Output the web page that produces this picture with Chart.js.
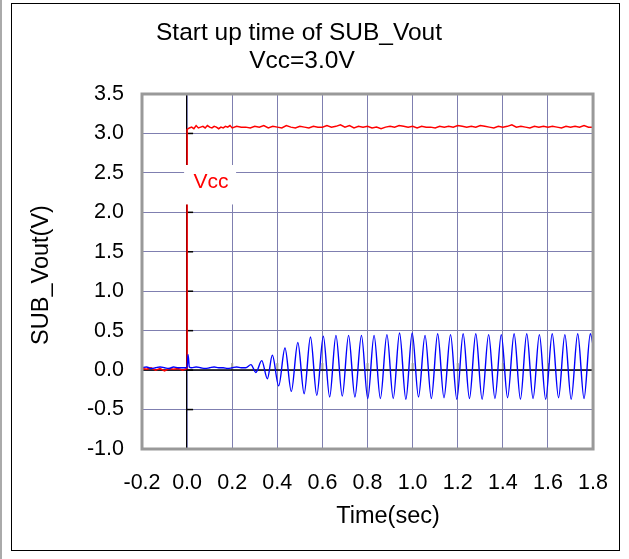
<!DOCTYPE html>
<html><head><meta charset="utf-8">
<script src="https://cdn.jsdelivr.net/npm/chart.js@4/dist/chart.umd.min.js"></script>
<style>html,body{margin:0;padding:0;background:#fff;}#wrap{position:absolute;left:0;top:0;width:629px;height:559px;}</style>
</head><body><div id="wrap"><canvas id="c" width="629" height="559"></canvas></div>
<script>
const titleLines = ['Start up time of SUB_Vout', 'Vcc=3.0V'];
const xTitle = 'Time(sec)';
const yTitle = 'SUB_Vout(V)';
const xTickValues = [-0.2, 0.0, 0.2, 0.4, 0.6, 0.8, 1.0, 1.2, 1.4, 1.6, 1.8];
const yTickValues = [-1.0, -0.5, 0.0, 0.5, 1.0, 1.5, 2.0, 2.5, 3.0, 3.5];
const vccLabel = 'Vcc';

// Vcc (red) trace
const redT = [-0.2,-0.18,-0.16,-0.14,-0.12,-0.1,-0.08,-0.06,-0.04,-0.02,0.0,0.0,
  0.01,0.02,0.03,0.04,0.05,0.06,0.07,0.08,0.09,0.1,0.11,0.12,0.13,0.14,0.15,0.16,0.17,0.18,0.19,0.2,
  0.22,0.24,0.26,0.28,0.3,0.32,0.34,0.36,0.38,0.4,
  0.42,0.44,0.46,0.48,0.5,0.52,0.54,0.56,0.58,0.6,0.62,0.64,0.66,0.68,0.7,0.72,0.74,0.76,0.78,0.8,
  0.82,0.84,0.86,0.88,0.9,0.92,0.94,0.96,0.98,1.0,1.02,1.04,1.06,1.08,1.1,1.12,1.14,1.16,1.18,1.2,
  1.22,1.24,1.26,1.28,1.3,1.32,1.34,1.36,1.38,1.4,1.42,1.44,1.46,1.48,1.5,1.52,1.54,1.56,1.58,1.6,
  1.62,1.64,1.66,1.68,1.7,1.72,1.74,1.76,1.78,1.8];
const redV = [0.02,0.01,0.03,0.00,0.02,-0.01,0.02,0.01,0.02,0.00,0.02,3.05,
  3.07,3.08,3.06,3.10,3.07,3.08,3.09,3.07,3.10,3.08,3.07,3.09,3.08,3.06,3.08,3.07,3.09,3.08,3.10,3.07,
  3.09,3.08,3.08,3.07,3.09,3.08,3.10,3.07,3.09,3.08,
  3.07,3.10,3.08,3.07,3.09,3.08,3.07,3.09,3.08,3.08,3.10,3.08,3.09,3.11,3.08,3.10,3.07,3.09,3.08,3.09,
  3.07,3.08,3.06,3.08,3.09,3.08,3.10,3.09,3.08,3.09,3.07,3.09,3.08,3.08,3.07,3.09,3.08,3.09,3.08,3.10,
  3.09,3.08,3.09,3.08,3.10,3.09,3.08,3.07,3.09,3.08,3.09,3.11,3.08,3.09,3.08,3.07,3.09,3.08,3.09,3.08,
  3.09,3.08,3.07,3.09,3.08,3.09,3.08,3.10,3.08,3.08];

// SUB_Vout (blue) trace
const blueT = [-0.2,-0.18,-0.16,-0.14,-0.12,-0.1,-0.08,-0.06,-0.04,-0.02,0.0,0.004,0.01,
  0.02,0.04,0.06,0.08,0.1,0.12,0.14,0.16,0.18,0.2,0.22,0.24,0.26,
  0.283,0.305,0.331,0.356,
  0.378,0.406,0.434,0.462,0.491,0.519,0.547,0.575,0.604,0.632,0.660,0.688,0.716,0.744,0.773,0.801,
  0.829,0.857,0.886,0.914,0.942,0.970,0.998,1.026,1.055,1.083,1.111,1.139,1.168,1.196,1.224,1.252,
  1.280,1.308,1.337,1.365,1.393,1.421,1.450,1.478,1.506,1.534,1.562,1.590,1.619,1.647,1.675,1.703,
  1.732,1.760,1.788,1.8];
const blueV = [0.03,0.04,0.02,0.03,0.04,0.03,0.02,0.04,0.03,0.03,0.03,0.20,0.04,
  0.03,0.04,0.03,0.02,0.03,0.04,0.03,0.03,0.02,0.03,0.04,0.03,0.03,
  0.07,-0.03,0.12,-0.11,
  0.19,-0.20,0.28,-0.27,0.35,-0.30,0.42,-0.32,0.43,-0.34,0.44,-0.33,0.44,-0.34,0.44,-0.36,
  0.44,-0.36,0.45,-0.36,0.47,-0.37,0.47,-0.34,0.44,-0.36,0.46,-0.35,0.45,-0.37,0.46,-0.36,
  0.46,-0.37,0.45,-0.36,0.45,-0.35,0.46,-0.37,0.46,-0.36,0.45,-0.37,0.46,-0.35,0.45,-0.37,
  0.46,-0.36,0.46,0.32];

const FONT = "'Liberation Sans', Arial, sans-serif";
const toXY = (ts, vs) => ts.map((t, i) => ({x: t, y: vs[i]}));

const decor = {
  id: 'decor',
  beforeDatasetsDraw(chart) {
    const ctx = chart.ctx, a = chart.chartArea, xs = chart.scales.x, ys = chart.scales.y;
    const x0 = xs.getPixelForValue(0), y0 = ys.getPixelForValue(0);
    ctx.save();
    ctx.strokeStyle = '#9a9a9a'; ctx.lineWidth = 2;
    xTickValues.forEach(v => { const px = xs.getPixelForValue(v); ctx.beginPath(); ctx.moveTo(px, y0 - 7); ctx.lineTo(px, y0); ctx.stroke(); });
    ctx.strokeStyle = '#000'; ctx.lineWidth = 1.5;
    ctx.beginPath(); ctx.moveTo(a.left, y0); ctx.lineTo(a.right, y0); ctx.stroke();
    ctx.lineWidth = 1;
    ctx.beginPath(); ctx.moveTo(Math.round(x0) - 0.5, a.top); ctx.lineTo(Math.round(x0) - 0.5, a.bottom); ctx.stroke();
    ctx.lineWidth = 1.5;
    yTickValues.forEach(v => { const py = ys.getPixelForValue(v); ctx.beginPath(); ctx.moveTo(x0 - 1, py); ctx.lineTo(x0 + 6, py); ctx.stroke(); });
    ctx.restore();
  },
  afterDatasetsDraw(chart) {
    const ctx = chart.ctx, a = chart.chartArea, xs = chart.scales.x, ys = chart.scales.y;
    const x0 = xs.getPixelForValue(0);
    ctx.save();
    ctx.fillStyle = '#fff';
    ctx.fillRect(x0 - 3, ys.getPixelForValue(2.6), 52, ys.getPixelForValue(2.1) - ys.getPixelForValue(2.6));
    ctx.fillStyle = '#ff0000';
    ctx.font = '21px ' + FONT;
    ctx.textAlign = 'center'; ctx.textBaseline = 'middle';
    ctx.fillText(vccLabel, x0 + 24, ys.getPixelForValue(2.38));
    ctx.strokeStyle = '#999'; ctx.lineWidth = 3;
    ctx.strokeRect(a.left, a.top, a.right - a.left, a.bottom - a.top);
    ctx.strokeStyle = '#000'; ctx.lineWidth = 1;
    ctx.strokeRect(11.5, 3.5, 608, 547);
    ctx.strokeStyle = '#aaa'; ctx.lineWidth = 2;
    ctx.beginPath(); ctx.moveTo(1, 0); ctx.lineTo(1, 559); ctx.stroke();
    ctx.fillStyle = '#000'; ctx.textAlign = 'center'; ctx.textBaseline = 'alphabetic';
    ctx.font = '24.5px ' + FONT;
    ctx.fillText(titleLines[0], 299, 40);
    ctx.fillText(titleLines[1], 302, 68);
    ctx.font = '23.5px ' + FONT;
    ctx.fillText(xTitle, 388, 523);
    ctx.save();
    ctx.translate(48, 275); ctx.rotate(-Math.PI / 2);
    ctx.fillText(yTitle, 0, 0);
    ctx.restore();
    ctx.restore();
  }
};

new Chart(document.getElementById('c'), {
  type: 'line',
  data: {
    datasets: [
      { label: 'Vcc', data: toXY(redT, redV), borderColor: '#ff0000', borderWidth: 1.5, pointRadius: 0, tension: 0, order: 2 },
      { label: 'SUB_Vout', data: toXY(blueT, blueV), borderColor: '#0000ff', borderWidth: 1.4, pointRadius: 0, cubicInterpolationMode: 'monotone', order: 1 }
    ]
  },
  options: {
    responsive: false, animation: false, devicePixelRatio: 1,
    layout: { padding: { left: 0, right: 33, top: 94, bottom: 0 } },
    plugins: { legend: { display: false }, title: { display: false }, tooltip: { enabled: false } },
    scales: {
      x: {
        type: 'linear', min: -0.2, max: 1.8,
        afterBuildTicks: s => { s.ticks = xTickValues.map(v => ({ value: v })); },
        afterFit: s => { s.height = 110; },
        ticks: { callback: v => v.toFixed(1), font: { family: FONT, size: 21.5 }, color: '#000', padding: 21, maxRotation: 0, autoSkip: false },
        grid: { color: '#7f7fb0', lineWidth: 1, drawTicks: false },
        border: { display: false }
      },
      y: {
        type: 'linear', min: -1.0, max: 3.5,
        afterBuildTicks: s => { s.ticks = yTickValues.map(v => ({ value: v })); },
        afterFit: s => { s.width = 142; },
        ticks: { callback: v => v.toFixed(1), font: { family: FONT, size: 21.5 }, color: '#000', padding: 18, autoSkip: false },
        grid: { color: '#7f7fb0', lineWidth: 1, drawTicks: false },
        border: { display: false }
      }
    }
  },
  plugins: [decor]
});
</script>
</body></html>
